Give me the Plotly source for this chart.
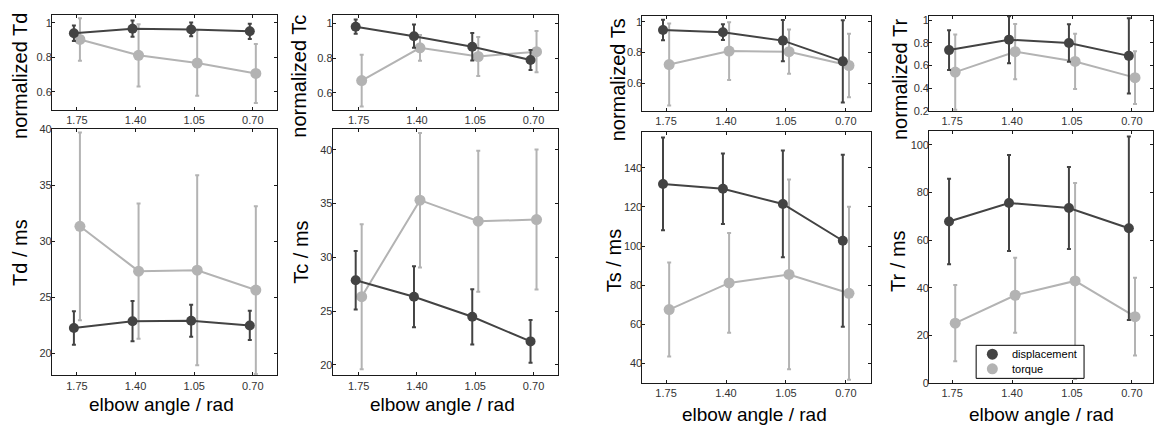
import plotly.graph_objects as go

W, H = 1154, 432

angles = [1.75, 1.40, 1.05, 0.70]
tick_labels = ["1.75", "1.40", "1.05", "0.70"]
series_names = ["displacement", "torque"]

# normalized Td
td_norm_disp = [0.940, 0.966, 0.962, 0.951]
td_norm_disp_err = [0.045, 0.047, 0.040, 0.044]
td_norm_torq = [0.904, 0.812, 0.767, 0.707]
td_norm_torq_err = [0.123, 0.180, 0.190, 0.171]
# Td / ms
td_disp = [22.25, 22.85, 22.90, 22.47]
td_disp_err = [1.50, 1.80, 1.43, 1.31]
td_torq = [31.34, 27.33, 27.41, 25.64]
td_torq_err = [8.40, 6.05, 8.50, 7.50]
# normalized Tc
tc_norm_disp = [0.981, 0.926, 0.865, 0.789]
tc_norm_disp_err = [0.041, 0.067, 0.079, 0.058]
tc_norm_torq = [0.670, 0.859, 0.809, 0.837]
tc_norm_torq_err = [0.149, 0.074, 0.113, 0.119]
# Tc / ms
tc_disp = [27.87, 26.33, 24.46, 22.17]
tc_disp_err = [2.72, 2.84, 2.57, 1.99]
tc_torq = [26.33, 35.32, 33.36, 33.51]
tc_torq_err = [6.75, 6.26, 6.56, 6.52]
# normalized Ts
ts_norm_disp = [0.947, 0.933, 0.878, 0.743]
ts_norm_disp_err = [0.067, 0.051, 0.134, 0.268]
ts_norm_torq = [0.722, 0.810, 0.806, 0.716]
ts_norm_torq_err = [0.267, 0.188, 0.144, 0.207]
# Ts / ms
ts_disp = [131.7, 129.2, 121.5, 102.7]
ts_disp_err = [23.7, 18.0, 27.2, 43.9]
ts_torq = [67.6, 81.2, 85.5, 75.9]
ts_torq_err = [24.0, 25.5, 48.4, 44.1]
# normalized Tr
tr_norm_disp = [0.737, 0.829, 0.800, 0.686]
tr_norm_disp_err = [0.175, 0.207, 0.165, 0.332]
tr_norm_torq = [0.543, 0.723, 0.637, 0.494]
tr_norm_torq_err = [0.331, 0.243, 0.243, 0.232]
# Tr / ms
tr_disp = [67.8, 75.6, 73.5, 65.0]
tr_disp_err = [17.9, 20.1, 17.2, 38.5]
tr_torq = [25.2, 36.9, 42.9, 27.9]
tr_torq_err = [16.0, 15.7, 41.1, 16.3]

DARK = "#434343"
LIGHT = "#b3b3b3"
FONT = "Liberation Sans, Arial, sans-serif"
OFF = 0.018

fig = go.Figure()

panels = [
    dict(box=(52, 277, 9, 107), xr=(1.899, 0.557), yr=(0.495, 1.047), dt=0.2,
         d=td_norm_disp, de=td_norm_disp_err, t=td_norm_torq, te=td_norm_torq_err),
    dict(box=(52, 277, 127, 380), xr=(1.899, 0.557), yr=(18, 40), dt=5,
         d=td_disp, de=td_disp_err, t=td_torq, te=td_torq_err),
    dict(box=(333, 558, 9, 107), xr=(1.906, 0.556), yr=(0.5, 1.05), dt=0.2,
         d=tc_norm_disp, de=tc_norm_disp_err, t=tc_norm_torq, te=tc_norm_torq_err),
    dict(box=(333, 558, 127, 380), xr=(1.906, 0.556), yr=(19, 41.9), dt=5,
         d=tc_disp, de=tc_disp_err, t=tc_torq, te=tc_torq_err),
    dict(box=(643, 872, 10, 108), xr=(1.888, 0.552), yr=(0.42, 1.04), dt=0.2,
         d=ts_norm_disp, de=ts_norm_disp_err, t=ts_norm_torq, te=ts_norm_torq_err),
    dict(box=(643, 872, 130, 388), xr=(1.888, 0.552), yr=(30, 158), dt=20,
         d=ts_disp, de=ts_disp_err, t=ts_torq, te=ts_torq_err),
    dict(box=(930, 1154, 10, 108), xr=(1.884, 0.577), yr=(0.2, 1.04), dt=0.2,
         d=tr_norm_disp, de=tr_norm_disp_err, t=tr_norm_torq, te=tr_norm_torq_err),
    dict(box=(930, 1154, 129, 388), xr=(1.884, 0.577), yr=(0, 105.6), dt=20,
         d=tr_disp, de=tr_disp_err, t=tr_torq, te=tr_torq_err),
]

layout = {}
for i, p in enumerate(panels):
    n = "" if i == 0 else str(i + 1)
    x0, x1, y0, y1 = p["box"]
    axis_common = dict(
        showline=True, linecolor="#1a1a1a", linewidth=1, mirror="ticks",
        ticks="inside", ticklen=3, tickwidth=1, tickcolor="#1a1a1a",
        showgrid=False, zeroline=False,
        tickfont=dict(family=FONT, size=11, color="#333333"),
    )
    layout["xaxis" + n] = dict(
        domain=[x0 / W, x1 / W], range=list(p["xr"]), anchor="y" + n,
        tickvals=angles, ticktext=tick_labels, **axis_common)
    layout["yaxis" + n] = dict(
        domain=[1 - y1 / H, 1 - y0 / H], range=list(p["yr"]), anchor="x" + n,
        dtick=p["dt"], tick0=0, ticklabelstandoff=-3, **axis_common)
    xs_d = [a + OFF for a in angles]
    xs_t = [a - OFF for a in angles]
    fig.add_trace(go.Scatter(
        x=xs_t, y=p["t"], mode="lines+markers", xaxis="x" + n, yaxis="y" + n,
        line=dict(color=LIGHT, width=2), marker=dict(color=LIGHT, size=11),
        error_y=dict(type="data", array=p["te"], visible=True, color=LIGHT,
                     thickness=2, width=2),
        showlegend=False, name="torque"))
    fig.add_trace(go.Scatter(
        x=xs_d, y=p["d"], mode="lines+markers", xaxis="x" + n, yaxis="y" + n,
        line=dict(color=DARK, width=2), marker=dict(color=DARK, size=10),
        error_y=dict(type="data", array=p["de"], visible=True, color=DARK,
                     thickness=2, width=2),
        showlegend=False, name="displacement"))

# hand-made legend (box + markers on a hidden axis + labels)
LX0, LX1, LY0, LY1 = 977, 1085, 349, 383
layout["xaxis9"] = dict(domain=[LX0 / W, LX1 / W], range=[0, 1], visible=False,
                        anchor="y9", fixedrange=True)
layout["yaxis9"] = dict(domain=[1 - LY1 / H, 1 - LY0 / H], range=[0, 1], visible=False,
                        anchor="x9", fixedrange=True)
leg_y = [0.73, 0.29]
for name, col, yy in zip(series_names, [DARK, LIGHT], leg_y):
    fig.add_trace(go.Scatter(x=[0.15], y=[yy], mode="markers", name=name,
                             marker=dict(color=col, size=11),
                             xaxis="x9", yaxis="y9", showlegend=False, hoverinfo="skip"))

annotations = []
for name, yy in zip(series_names, leg_y):
    annotations.append(dict(text=name, x=0.31, y=yy, xref="x9", yref="y9",
                            showarrow=False, xanchor="left", yanchor="middle",
                            font=dict(family=FONT, size=11, color="#000000")))

ytitles = [
    ("normalized Td", 20, 72), ("Td / ms", 20, 253),
    ("normalized Tc", 299, 72), ("Tc / ms", 301, 253),
    ("normalized Ts", 618, 76), ("Ts / ms", 614, 262),
    ("normalized Tr", 901, 76), ("Tr / ms", 898, 263),
]
for text, x, y in ytitles:
    annotations.append(dict(text=text, x=x / W, y=1 - y / H, xref="paper", yref="paper",
                            showarrow=False, textangle=-90, xanchor="center", yanchor="middle",
                            font=dict(family=FONT, size=20, color="#000000")))
for x, y in [(162, 410), (443, 410), (755, 420), (1042, 420)]:
    annotations.append(dict(text="elbow angle / rad", x=x / W, y=1 - y / H, xref="paper",
                            yref="paper", showarrow=False, xanchor="center", yanchor="middle",
                            font=dict(family=FONT, size=19, color="#000000")))

shapes = [dict(type="rect", xref="paper", yref="paper", x0=LX0 / W, x1=LX1 / W,
               y0=1 - LY1 / H, y1=1 - LY0 / H, line=dict(color="#000000", width=1),
               fillcolor="rgba(0,0,0,0)", layer="above")]

fig.update_layout(
    width=W, height=H, margin=dict(l=0, r=0, t=0, b=0),
    paper_bgcolor="white", plot_bgcolor="white",
    annotations=annotations, shapes=shapes, showlegend=False,
    **layout,
)

fig.write_html("out.html")
